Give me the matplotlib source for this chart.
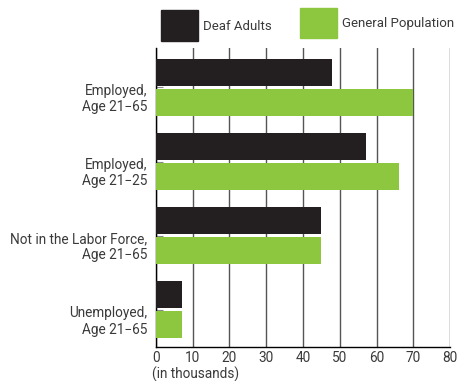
import matplotlib
matplotlib.use("Agg")
import matplotlib.pyplot as plt
from matplotlib.patches import Rectangle
from matplotlib.transforms import ScaledTranslation
import numpy as np

plt.rcParams['font.family'] = ['Roboto', 'DejaVu Sans']

categories = ["Employed,\nAge 21\u221265", "Employed,\nAge 21\u221225",
              "Not in the Labor Force,\nAge 21\u221265", "Unemployed,\nAge 21\u221265"]
deaf = [48, 57, 45, 7]
general = [70, 66, 45, 7]
series_names = ["Deaf Adults", "General Population"]
xticks = [0, 10, 20, 30, 40, 50, 60, 70, 80]

DARK = "#231f20"
GREEN = "#8dc63f"
TXT = "#3a3a3a"
FS = 9.8

fig = plt.figure(figsize=(4.57, 3.81), dpi=100)
ax = fig.add_axes([0.341, 0.089, 0.644, 0.785])

y = np.arange(len(categories))
h = 0.364
gap = 0.04
ax.barh(y - (h + gap) / 2, deaf, height=h, color=DARK, zorder=3)
ax.barh(y + (h + gap) / 2, general, height=h, color=GREEN, zorder=3)

ax.set_ylim(3.5, -0.53)
ax.set_xlim(0, 80)
ax.set_xticks(xticks)
ax.set_yticks(y)
ax.set_yticklabels(categories, fontsize=FS, color=TXT, ha="right", linespacing=1.2)
ax.tick_params(axis="y", direction="in", length=5, color="#888888", pad=6)
ax.tick_params(axis="x", length=0, labelsize=FS, labelcolor=TXT, pad=3)
# category labels sit a little below their tick
shift = ScaledTranslation(0, -0.09, fig.dpi_scale_trans)
for lab in ax.get_yticklabels():
    lab.set_transform(lab.get_transform() + shift)
ax.xaxis.grid(True, color="#555555", linewidth=1, zorder=0)
for s in ["top", "right"]:
    ax.spines[s].set_visible(False)
for s in ["left", "bottom"]:
    ax.spines[s].set_color("black")
    ax.spines[s].set_linewidth(1)

fig.text(152 / 457, 1 - 374 / 381, "(in thousands)", fontsize=FS, color=TXT,
         ha="left", va="center")

# legend
W, H = 457, 381
fig.patches.append(Rectangle((161 / W, 1 - 41 / H), 37 / W, 31 / H,
                             transform=fig.transFigure, color=DARK))
fig.text(203 / W, 1 - 26 / H, series_names[0], fontsize=9.5, color=TXT, va="center")
fig.patches.append(Rectangle((300 / W, 1 - 38 / H), 37 / W, 30 / H,
                             transform=fig.transFigure, color=GREEN))
fig.text(342 / W, 1 - 24 / H, series_names[1], fontsize=9.5, color=TXT, va="center")

fig.savefig("out.png", dpi=100)
